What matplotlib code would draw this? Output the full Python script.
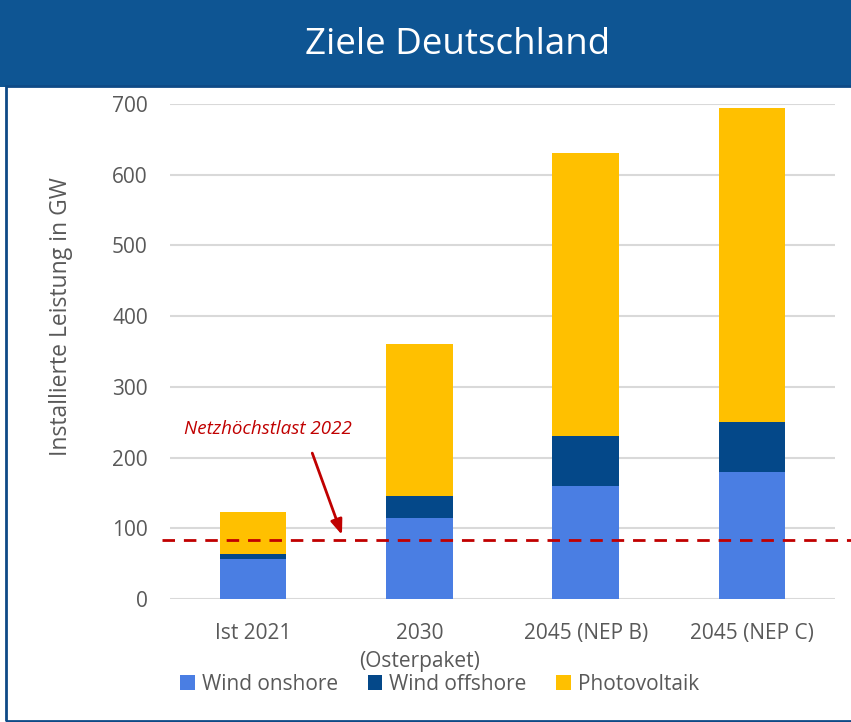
import matplotlib
matplotlib.use("Agg")
import matplotlib.pyplot as plt
from matplotlib.patches import Rectangle
import numpy as np

plt.rcParams['font.family'] = ['Open Sans', 'DejaVu Sans']

categories = ["Ist 2021", "2030\n(Osterpaket)", "2045 (NEP B)", "2045 (NEP C)"]
wind_onshore = [56, 115, 160, 180]
wind_offshore = [8, 30, 70, 70]
photovoltaik = [59, 215, 400, 445]
series_names = ["Wind onshore", "Wind offshore", "Photovoltaik"]
colors = ["#4A7EE3", "#044889", "#FFC000"]
netzhoechstlast = 83
yticks = [0, 100, 200, 300, 400, 500, 600, 700]

W, H = 851, 722
fig = plt.figure(figsize=(W/100, H/100), dpi=100)

# header band
fig.patches.append(Rectangle((0, 1 - 87/H), 1, 87/H, transform=fig.transFigure,
                             facecolor="#0E5593", edgecolor="none", zorder=0))
fig.text(458/W, 1 - 45/H, "Ziele Deutschland", color="white", fontsize=26.5,
         ha="center", va="center")
# frame
fig.patches.append(Rectangle((6/W, 1 - 721/H), 1.2, (721-86)/H, transform=fig.transFigure,
                             facecolor="none", edgecolor="#0E4A86", linewidth=2, zorder=5))

ax = fig.add_axes([170/W, 1 - 599/H, 665/W, (599-104)/H])
x = np.arange(len(categories))
bw = 0.4
bottom = np.zeros(len(categories))
for vals, name, c in zip([wind_onshore, wind_offshore, photovoltaik], series_names, colors):
    ax.bar(x, vals, bw, bottom=bottom, color=c, label=name, zorder=3, clip_on=False)
    bottom += np.array(vals)

ax.set_xlim(-0.5, len(categories) - 0.5)
ax.set_ylim(0, 700)
ax.set_yticks(yticks)
ax.yaxis.grid(True, color="#D9D9D9", linewidth=1.5, zorder=0)
ax.set_axisbelow(True)
for s in ax.spines.values():
    s.set_visible(False)
ax.tick_params(axis="both", length=0, labelsize=15, colors="#595959")
ax.tick_params(axis="y", pad=16)
ax.tick_params(axis="x", pad=17)
ax.set_xticks(x)
ax.set_xticklabels(categories, linespacing=1.45)
ax.set_ylabel("Installierte Leistung in GW", fontsize=16.5, color="#595959")
ax.yaxis.set_label_coords((73 - 170) / 665, (599 - 317) / 495)

# dashed peak-load line
ax.plot([-0.55, 4.6], [netzhoechstlast, netzhoechstlast], linestyle=(0, (4.5, 3.2)),
        color="#C00000", linewidth=2, zorder=4, clip_on=False)
ax.annotate("", xy=(0.54, netzhoechstlast + 4), xytext=(0.35, 210),
            arrowprops=dict(arrowstyle="-|>,head_length=0.9,head_width=0.35",
                            color="#C00000", linewidth=2), zorder=5)
ax.text(0.09, 240, "Netzhöchstlast 2022", color="#C00000", fontsize=13.5,
        style="italic", ha="center", va="center")

leg = ax.legend(loc="center left", bbox_to_anchor=(172/W, 1 - 684/H),
                bbox_transform=fig.transFigure, ncol=3, frameon=False,
                fontsize=15, handlelength=0.7, handleheight=0.7,
                handletextpad=0.35, columnspacing=1.4, borderaxespad=0)
for t in leg.get_texts():
    t.set_color("#595959")

fig.savefig("out.png", dpi=100)
